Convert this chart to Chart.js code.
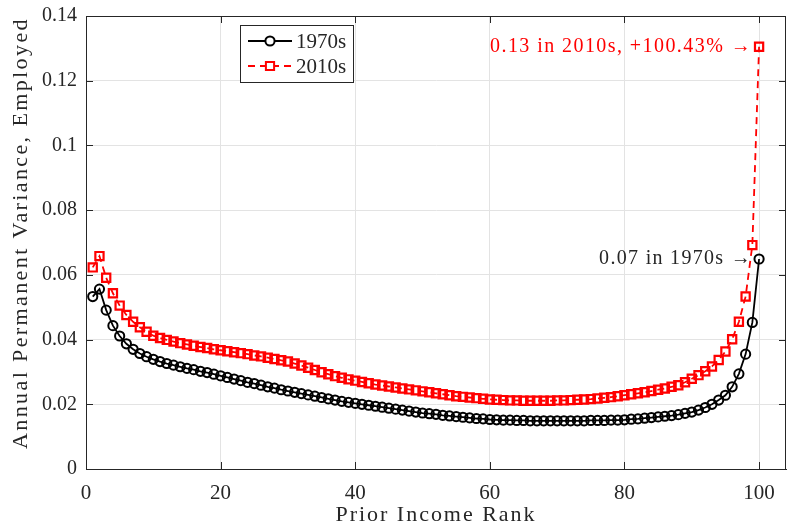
<!DOCTYPE html>
<html>
<head>
<meta charset="utf-8">
<script src="https://cdn.jsdelivr.net/npm/chart.js@4.4.0/dist/chart.umd.min.js"></script>
<style>
  html, body { margin: 0; padding: 0; background: #fff; overflow: hidden; }
  /* a few px wider than the window: Chart.js keeps a small gap on the right */
  #wrap { width: 794px; height: 527px; }
</style>
</head>
<body>
<div id="wrap"><canvas id="grafica"></canvas></div>
<script>
// Prior income rank (x axis)
const ranks = [1,2,3,4,5,6,7,8,9,10,11,12,13,14,15,16,17,18,19,20,
	21,22,23,24,25,26,27,28,29,30,31,32,33,34,35,36,37,38,39,40,
	41,42,43,44,45,46,47,48,49,50,51,52,53,54,55,56,57,58,59,60,
	61,62,63,64,65,66,67,68,69,70,71,72,73,74,75,76,77,78,79,80,
	81,82,83,84,85,86,87,88,89,90,91,92,93,94,95,96,97,98,99,100];

const var1970s = [0.0533,0.0556,0.0491,0.0443,0.0411,0.0387,0.0370,0.0357,0.0347,0.0339,
	0.0332,0.0326,0.0321,0.0316,0.0311,0.0307,0.0302,0.0298,0.0293,0.0288,
	0.0283,0.0278,0.0273,0.0268,0.0264,0.0259,0.0254,0.0250,0.0245,0.0241,
	0.0237,0.0233,0.0229,0.0225,0.0221,0.0217,0.0213,0.0209,0.0206,0.0203,
	0.0200,0.0197,0.0194,0.0191,0.0188,0.0185,0.0182,0.0179,0.0176,0.0173,
	0.0171,0.0169,0.0166,0.0164,0.0162,0.0160,0.0158,0.0156,0.0155,0.0153,
	0.0152,0.0151,0.0151,0.0150,0.0150,0.0149,0.0149,0.0149,0.0149,0.0149,
	0.0149,0.0149,0.0149,0.0149,0.0150,0.0150,0.0150,0.0151,0.0151,0.0152,
	0.0154,0.0155,0.0157,0.0159,0.0161,0.0163,0.0165,0.0168,0.0172,0.0176,
	0.0182,0.0190,0.0200,0.0213,0.0228,0.0254,0.0294,0.0355,0.0453,0.0649];

const var2010s = [0.0623,0.0658,0.0591,0.0543,0.0505,0.0476,0.0455,0.0438,0.0424,0.0412,
	0.0405,0.0399,0.0394,0.0389,0.0385,0.0381,0.0377,0.0374,0.0370,0.0367,
	0.0364,0.0361,0.0358,0.0355,0.0351,0.0348,0.0344,0.0340,0.0336,0.0332,
	0.0326,0.0320,0.0313,0.0306,0.0299,0.0293,0.0287,0.0282,0.0277,0.0273,
	0.0269,0.0265,0.0261,0.0258,0.0255,0.0252,0.0249,0.0246,0.0243,0.0240,
	0.0237,0.0234,0.0231,0.0228,0.0225,0.0223,0.0221,0.0219,0.0217,0.0215,
	0.0214,0.0213,0.0212,0.0212,0.0211,0.0211,0.0211,0.0211,0.0211,0.0212,
	0.0212,0.0213,0.0214,0.0215,0.0216,0.0218,0.0220,0.0222,0.0225,0.0228,
	0.0231,0.0234,0.0237,0.0241,0.0245,0.0249,0.0254,0.0259,0.0268,0.0279,
	0.0290,0.0302,0.0317,0.0337,0.0363,0.0401,0.0455,0.0533,0.0692,0.1305];

const seriesNames = ['1970s', '2010s'];
const notes = ['0.07 in 1970s \u2192', '0.13 in 2010s, +100.43% \u2192'];
const xTitle = 'Prior Income Rank';
const yTitle = 'Annual Permanent Variance, Employed';

const SERIF = '"Liberation Serif", "DejaVu Serif", serif';
const INK = '#262626';

// stretch a text to a given width (the reference font is wider than Times)
function ajustar(c, text, font, width) {
	c.font = font;
	c.letterSpacing = '0px';
	const w = c.measureText(text).width;
	c.letterSpacing = Math.max(0, (width - w) / text.length).toFixed(2) + 'px';
}

// box round the axes, inward ticks, titles, legend and the two notes
const marcoPlugin = {
	id: 'marco',
	afterDraw(chart) {
		const c = chart.ctx, a = chart.chartArea;
		const xs = chart.scales.x, ys = chart.scales.y;
		c.save();
		c.strokeStyle = INK;
		c.lineWidth = 1;
		c.strokeRect(a.left + 0.5, a.top + 0.5, a.right - a.left - 1, a.bottom - a.top);
		const tl = 7;
		c.beginPath();
		xs.ticks.forEach(t => {
			const px = Math.round(xs.getPixelForValue(t.value)) + 0.5;
			c.moveTo(px, a.bottom); c.lineTo(px, a.bottom - tl);
			c.moveTo(px, a.top); c.lineTo(px, a.top + tl);
		});
		ys.ticks.forEach(t => {
			const py = Math.round(ys.getPixelForValue(t.value)) + 0.5;
			c.moveTo(a.left, py); c.lineTo(a.left + tl, py);
			c.moveTo(a.right, py); c.lineTo(a.right - tl, py);
		});
		c.stroke();

		// axis titles
		c.fillStyle = INK;
		c.textAlign = 'center';
		c.textBaseline = 'middle';
		ajustar(c, xTitle, '22px ' + SERIF, 201);
		c.fillText(xTitle, (a.left + a.right) / 2, 515);
		c.save();
		c.translate(21, 233);
		c.rotate(-Math.PI / 2);
		ajustar(c, yTitle, '22px ' + SERIF, 432);
		c.fillText(yTitle, 0, 0);
		c.restore();

		// legend
		const lx = 240, ly = 25, lw = 113, lh = 57;
		c.letterSpacing = '0px';
		c.fillStyle = '#fff';
		c.fillRect(lx, ly, lw, lh);
		c.strokeStyle = INK;
		c.strokeRect(lx + 0.5, ly + 0.5, lw, lh);
		chart.data.datasets.forEach((ds, i) => {
			const y = ly + 16 + i * 25;
			c.strokeStyle = ds.borderColor;
			c.lineWidth = 2;
			c.setLineDash(ds.borderDash || []);
			c.beginPath();
			c.moveTo(lx + 8, y); c.lineTo(lx + 52, y);
			c.stroke();
			c.setLineDash([]);
			c.fillStyle = '#fff';
			c.strokeStyle = ds.pointBorderColor;
			Chart.helpers.drawPoint(c, {
				pointStyle: ds.pointStyle, radius: ds.pointRadius, borderWidth: ds.pointBorderWidth
			}, lx + 30, y);
			c.fillStyle = INK;
			c.textAlign = 'left';
			c.textBaseline = 'middle';
			ajustar(c, seriesNames[i], '21px ' + SERIF, 50);
			c.fillText(seriesNames[i], lx + 56, y + 1);
		});

		// notes at the last point of each series
		const colores = [INK, '#ff0000'];
		const anchos = [153, 262];
		[var1970s, var2010s].forEach((vals, i) => {
			const px = xs.getPixelForValue(ranks[ranks.length - 1]);
			const py = ys.getPixelForValue(vals[vals.length - 1]);
			c.fillStyle = colores[i];
			c.textAlign = 'right';
			c.textBaseline = 'middle';
			ajustar(c, notes[i], '20px ' + SERIF, anchos[i]);
			c.fillText(notes[i], px - 7, py);
		});
		c.restore();
	}
};

function sinRelleno(s) {
	s.paddingTop = 0; s.paddingBottom = 0;
	s.paddingLeft = 0; s.paddingRight = 0;
}

new Chart(document.getElementById('grafica'), {
	type: 'line',
	data: {
		datasets: [{
			label: seriesNames[0],
			data: ranks.map((r, i) => ({ x: r, y: var1970s[i] })),
			borderColor: '#000000',
			borderWidth: 1.8,
			pointStyle: 'circle',
			pointRadius: 4.6,
			pointBorderWidth: 2,
			pointBorderColor: '#000000',
			pointBackgroundColor: 'rgba(0,0,0,0)',
			tension: 0
		}, {
			label: seriesNames[1],
			data: ranks.map((r, i) => ({ x: r, y: var2010s[i] })),
			borderColor: '#ff0000',
			borderWidth: 1.8,
			borderDash: [7, 5],
			pointStyle: 'rect',
			pointRadius: 5.8,
			pointBorderWidth: 2.2,
			pointBorderColor: '#ff0000',
			pointBackgroundColor: 'rgba(0,0,0,0)',
			tension: 0
		}]
	},
	options: {
		responsive: true,
		maintainAspectRatio: false,
		animation: false,
		layout: { padding: { left: 0, right: 2, top: 16, bottom: 0 } },
		plugins: {
			legend: { display: false },
			tooltip: { enabled: false }
		},
		scales: {
			x: {
				type: 'linear',
				min: 0,
				max: 104,
				afterFit(s) { s.height = 58; sinRelleno(s); },
				ticks: {
					stepSize: 20,
					includeBounds: false,
					padding: 12,
					maxRotation: 0,
					color: INK,
					font: { family: SERIF, size: 21 }
				},
				grid: { color: '#e3e3e3', drawTicks: false },
				border: { color: INK }
			},
			y: {
				min: 0,
				max: 0.14,
				afterFit(s) { s.width = 86; sinRelleno(s); },
				ticks: {
					stepSize: 0.02,
					padding: 9,
					color: INK,
					font: { family: SERIF, size: 20 },
					callback: v => String(+v.toFixed(2))
				},
				grid: { color: '#e3e3e3', drawTicks: false },
				border: { color: INK }
			}
		}
	},
	plugins: [marcoPlugin]
});
</script>
</body>
</html>
